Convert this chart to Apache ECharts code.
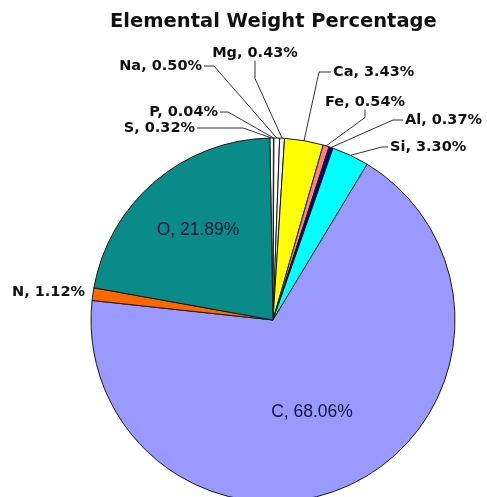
<!DOCTYPE html>
<html><head><meta charset="utf-8">
<script src="https://cdn.jsdelivr.net/npm/echarts@6/dist/echarts.min.js"></script>
<style>html,body{margin:0;padding:0;background:#fff}#chart{width:487px;height:497px}</style>
</head><body><div id="chart"></div>
<script>
// ---- data ----
const elements = ['S', 'P', 'Na', 'Mg', 'Ca', 'Fe', 'Al', 'Si', 'C', 'N', 'O'];
const percents = [0.32, 0.04, 0.50, 0.43, 3.43, 0.54, 0.37, 3.30, 68.06, 1.12, 21.89];
const sliceColors = ['#ffffff', '#ffffff', '#ffffff', '#f2f2f2', '#ffff00', '#ff8080', '#000080', '#00ffff', '#9999ff', '#ff6600', '#0b8a8a'];
const titleText = 'Elemental Weight Percentage';

// ---- label layout (px) ----
const labelPlace = {
  S:  {x: 195, y: 128, align: 'right', side: 'right', len: 46},
  P:  {x: 218, y: 112, align: 'right', side: 'right', len: 8},
  Na: {x: 202, y: 66,  align: 'right', side: 'right', len: 10},
  Mg: {x: 255, y: 53,  align: 'center', side: 'bottom', len: 18},
  Ca: {x: 333, y: 72,  align: 'left', side: 'left', len: 12},
  Fe: {x: 325, y: 102, align: 'left', side: 'belowMid', len: 8},
  Al: {x: 405, y: 120, align: 'left', side: 'left', len: 10},
  Si: {x: 390, y: 147, align: 'left', side: 'left', len: 6},
  C:  {x: 312, y: 412, align: 'center', inside: true},
  N:  {x: 85,  y: 292, align: 'right', noLine: true},
  O:  {x: 198, y: 230, align: 'center', inside: true}
};

const chart = echarts.init(document.getElementById('chart'), null, {renderer: 'canvas'});

const seriesData = elements.map((name, i) => {
  const lp = labelPlace[name];
  const item = {name: name, value: percents[i], itemStyle: {color: sliceColors[i]}};
  if (lp.inside) {
    item.label = {position: 'inside', fontFamily: 'Liberation Sans', fontWeight: 'normal', fontSize: 17.5, color: '#16163a'};
    item.labelLine = {show: false};
  } else if (lp.noLine) {
    item.labelLine = {show: false};
  }
  return item;
});

chart.setOption({
  animation: false,
  backgroundColor: '#ffffff',
  title: {
    text: titleText,
    left: 110,
    top: 12,
    padding: 0,
    textStyle: {fontFamily: 'DejaVu Sans', fontWeight: 'bold', fontSize: 19.5, color: '#111111'}
  },
  series: [{
    type: 'pie',
    center: [273, 320],
    radius: 182,
    startAngle: 91,
    clockwise: true,
    avoidLabelOverlap: false,
    itemStyle: {borderColor: '#1a1a1a', borderWidth: 1},
    emphasis: {disabled: true},
    label: {
      show: true,
      position: 'outside',
      overflow: 'none',
      formatter: p => p.name + ', ' + p.value.toFixed(2) + '%',
      fontFamily: 'DejaVu Sans',
      fontWeight: 'bold',
      fontSize: 14.5,
      color: '#111111'
    },
    labelLine: {show: true, length: 10, length2: 10, lineStyle: {color: '#333333', width: 1}},
    labelLayout: function (p) {
      const name = elements[p.dataIndex];
      const lp = labelPlace[name];
      const out = {x: lp.x, y: lp.y, align: lp.align, verticalAlign: 'middle'};
      if (!lp.inside && !lp.noLine && p.labelLinePoints) {
        const start = p.labelLinePoints[0];
        const h = p.labelRect.height, w = p.labelRect.width;
        let a, e;
        if (lp.side === 'right') { a = [lp.x + 2, lp.y]; e = [lp.x + 2 + lp.len, lp.y]; }
        else if (lp.side === 'left') { a = [lp.x - 2, lp.y]; e = [lp.x - 2 - lp.len, lp.y]; }
        else if (lp.side === 'bottom') { a = [lp.x, lp.y + h / 2]; e = [lp.x, lp.y + h / 2 + lp.len]; }
        else { const mx = lp.x + w / 2; a = [mx, lp.y + h / 2]; e = [mx, lp.y + h / 2 + lp.len]; }
        out.labelLinePoints = [start, e, a];
      }
      return out;
    },
    data: seriesData
  }]
});
</script>
</body></html>
